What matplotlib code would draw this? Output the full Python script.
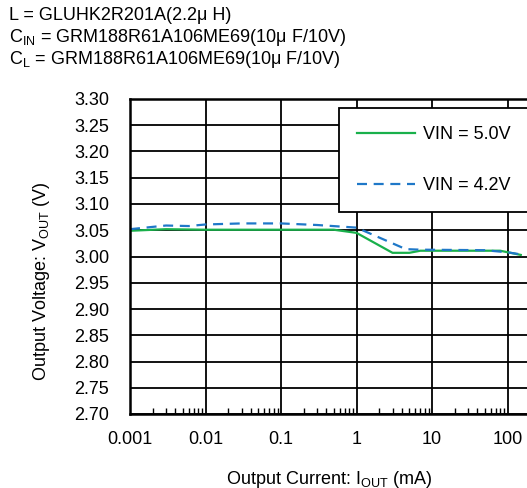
import numpy as np
import matplotlib
matplotlib.use('Agg')
import matplotlib.pyplot as plt
from matplotlib.ticker import LogLocator, FixedLocator, NullFormatter

plt.rcParams['font.family'] = ['Liberation Sans', 'DejaVu Sans']
plt.rcParams['mathtext.fontset'] = 'custom'
plt.rcParams['mathtext.rm'] = 'Liberation Sans'

# data
i_5v0 = [0.001, 0.003, 0.01, 0.1, 0.5, 1, 3, 5, 7, 20, 80, 150]
v_5v0 = [3.049, 3.052, 3.051, 3.051, 3.051, 3.045, 3.007, 3.007, 3.011, 3.011, 3.011, 3.003]
i_4v2 = [0.001, 0.003, 0.006, 0.01, 0.03, 0.1, 0.3, 1, 4.5, 7, 50, 100, 150]
v_4v2 = [3.052, 3.059, 3.058, 3.061, 3.063, 3.063, 3.060, 3.055, 3.014, 3.013, 3.012, 3.008, 3.004]

y_ticks = [2.70, 2.75, 2.80, 2.85, 2.90, 2.95, 3.00, 3.05, 3.10, 3.15, 3.20, 3.25, 3.30]
x_ticks = [0.001, 0.01, 0.1, 1, 10, 100, 1000]
x_labels = ['0.001', '0.01', '0.1', '1', '10', '100', '']

FS = 13
W, H = 527, 488
fig = plt.figure(figsize=(W / 100, H / 100), dpi=100)
# right side of the plot is cut off in the original picture
ax = fig.add_axes([130 / W, (H - 414) / H, 453 / W, 315 / H])

ax.plot(i_5v0, v_5v0, color='#19b04b', lw=1.6, label='VIN = 5.0V')
ax.plot(i_4v2, v_4v2, color='#1f78c8', lw=1.6, ls=(0, (4.5, 3)), label='VIN = 4.2V')

ax.set_xscale('log')
ax.set_xlim(0.001, 1000)
ax.set_ylim(2.70, 3.30)
ax.xaxis.set_major_locator(FixedLocator(x_ticks))
ax.set_xticklabels(x_labels)
ax.xaxis.set_minor_locator(LogLocator(base=10, subs=np.arange(2, 10)))
ax.xaxis.set_minor_formatter(NullFormatter())
ax.set_yticks(y_ticks)
ax.set_yticklabels(['%.2f' % v for v in y_ticks])

ax.grid(True, which='major', color='black', lw=1.3)
ax.tick_params(which='major', length=0, labelsize=FS)
ax.tick_params(axis='x', which='major', pad=12)
ax.tick_params(axis='y', which='major', pad=15)
ax.tick_params(axis='x', which='minor', direction='in', length=4, width=1, color='black',
               bottom=True, top=False)
for s in ax.spines.values():
    s.set_linewidth(1.8)
    s.set_color('black')

leg = ax.legend(loc='upper left', bbox_to_anchor=(339 / W, (H - 108) / H),
                bbox_transform=fig.transFigure, frameon=True, fancybox=False,
                edgecolor='black', framealpha=1, fontsize=FS, labelspacing=1.9,
                handlelength=3.2, handletextpad=0.45, borderpad=1.0, borderaxespad=0)
leg.get_frame().set_linewidth(1.3)

fig.text(9 / W, 1 - 15 / H, 'L = GLUHK2R201A(2.2\u03bc H)', fontsize=FS, va='center')
fig.text(9 / W, 1 - 38 / H, 'C$_{\\mathrm{IN}}$ = GRM188R61A106ME69(10\u03bc F/10V)',
         fontsize=FS, va='center')
fig.text(9 / W, 1 - 60 / H, 'C$_{\\mathrm{L}}$ = GRM188R61A106ME69(10\u03bc F/10V)',
         fontsize=FS, va='center')

fig.text(42 / W, 1 - 281 / H, r'Output Voltage: V$_{\mathrm{OUT}}$ (V)', fontsize=FS,
         rotation=90, ha='center', va='center')
fig.text(329 / W, 1 - 479 / H, r'Output Current: I$_{\mathrm{OUT}}$ (mA)', fontsize=FS,
         ha='center', va='center')

fig.savefig('out.png', dpi=100)
